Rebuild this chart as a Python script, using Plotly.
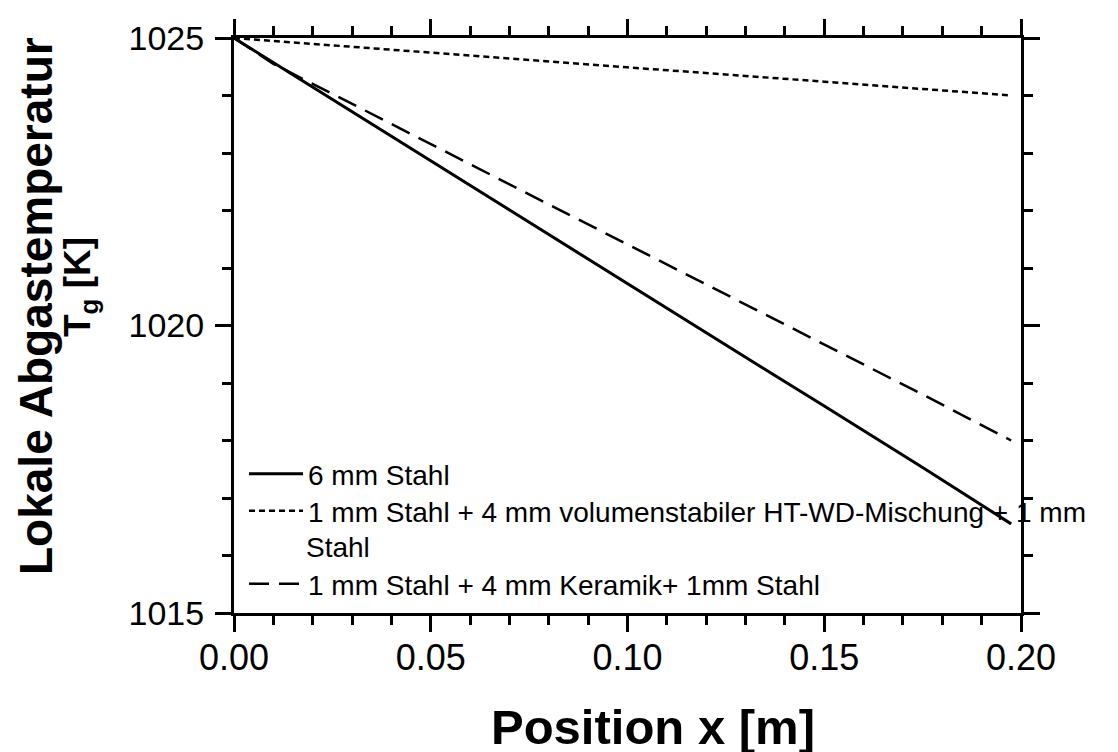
import plotly.graph_objects as go

# Data
x_solid = [0.0, 0.025, 0.05, 0.075, 0.10, 0.125, 0.15, 0.175, 0.1975]
t_solid = [1025.0, 1023.93, 1022.86, 1021.80, 1020.73, 1019.66, 1018.60, 1017.53, 1016.55]

x_dotted = [0.0, 0.05, 0.10, 0.15, 0.1975]
t_dotted = [1025.0, 1024.74, 1024.49, 1024.24, 1024.0]

x_dashed = [0.0, 0.01, 0.025, 0.05, 0.075, 0.10, 0.125, 0.15, 0.175, 0.1975]
t_dashed = [1025.0, 1024.55, 1024.03, 1023.15, 1022.28, 1021.41, 1020.54, 1019.67, 1018.80, 1018.0]

names = [
    "6 mm Stahl",
    "1 mm Stahl + 4 mm volumenstabiler HT-WD-Mischung + 1 mm",
    "1 mm Stahl + 4 mm Keramik+ 1mm Stahl",
]
name_wrap = "Stahl"  # second line of the middle legend entry

x_ticks = [0.0, 0.05, 0.10, 0.15, 0.20]
x_ticklabels = ["0.00", "0.05", "0.10", "0.15", "0.20"]
y_ticks = [1015, 1020, 1025]

x_title = "Position x [m]"
y_title_1 = "Lokale Abgastemperatur"
y_title_2 = "T<sub>g</sub> [K]"

FONT = "Liberation Sans, Arial, Helvetica, sans-serif"

fig = go.Figure()
fig.add_trace(go.Scatter(x=x_solid, y=t_solid, mode="lines", name=names[0], legend="legend",
                         line=dict(color="black", width=3, dash="solid")))
fig.add_trace(go.Scatter(x=x_dotted, y=t_dotted, mode="lines", name=names[1], legend="legend2",
                         line=dict(color="black", width=2.5, dash="6px,4px")))
fig.add_trace(go.Scatter(x=x_dashed, y=t_dashed, mode="lines", name=names[2], legend="legend3",
                         line=dict(color="black", width=2.5, dash="20px,10px")))

axis_common = dict(
    showgrid=False, zeroline=False, showline=True, linecolor="black", linewidth=3,
    ticks="outside", ticklen=16, tickwidth=3, tickcolor="black", mirror="ticks",
    automargin=False,
)

fig.update_xaxes(
    range=[0, 0.20], tickvals=x_ticks, ticktext=x_ticklabels,
    tickfont=dict(family=FONT, size=36, color="black"),
    ticklabelstandoff=-5,
    minor=dict(dtick=0.01, ticks="outside", ticklen=9, tickwidth=3, tickcolor="black"),
    **axis_common,
)
fig.update_yaxes(
    range=[1015, 1025], tickvals=y_ticks,
    tickfont=dict(family=FONT, size=34, color="black"),
    ticklabelstandoff=4,
    minor=dict(dtick=1, ticks="outside", ticklen=9, tickwidth=3, tickcolor="black"),
    **axis_common,
)

PLOT_L, PLOT_T, PLOT_B = 226, 30, 605
PLOT_W, PLOT_H = 787, 575


def py(px):
    return (PLOT_B - px) / PLOT_H


fig.add_annotation(text="<b>" + x_title + "</b>", xref="paper", yref="paper",
                   x=(645 - PLOT_L) / PLOT_W, y=0, xanchor="center", yanchor="middle",
                   yshift=-(719 - PLOT_B), showarrow=False,
                   font=dict(family=FONT, size=49, color="black"))
fig.add_annotation(text="<b>" + y_title_1 + "</b>", xref="paper", yref="paper",
                   x=0, y=py(298), xanchor="center", yanchor="middle",
                   xshift=28 - PLOT_L, textangle=-90, showarrow=False,
                   font=dict(family=FONT, size=46, color="black"))
fig.add_annotation(text="<b>" + y_title_2 + "</b>", xref="paper", yref="paper",
                   x=0, y=py(279), xanchor="center", yanchor="middle",
                   xshift=72 - PLOT_L, textangle=-90, showarrow=False,
                   font=dict(family=FONT, size=37, color="black"))

LEG_X = 10 / PLOT_W
LEG_SIZE = 28
leg_common = dict(x=LEG_X, xanchor="left", yanchor="middle",
                  bgcolor="rgba(0,0,0,0)", borderwidth=0,
                  font=dict(family=FONT, size=LEG_SIZE, color="black"),
                  itemwidth=54)

# continuation line of the middle legend entry
fig.add_annotation(text=name_wrap, xref="paper", yref="paper",
                   x=(297 - PLOT_L) / PLOT_W, y=py(539), xanchor="left", yanchor="middle",
                   showarrow=False, borderpad=0,
                   font=dict(family=FONT, size=LEG_SIZE, color="black"))

fig.update_layout(
    width=1118, height=752,
    margin=dict(l=PLOT_L, r=105, t=PLOT_T, b=147, autoexpand=False),
    paper_bgcolor="white", plot_bgcolor="white",
    showlegend=True,
    legend=dict(y=py(466), **leg_common),
    legend2=dict(y=py(503), **leg_common),
    legend3=dict(y=py(576), **leg_common),
)

fig.write_html("out.html")
